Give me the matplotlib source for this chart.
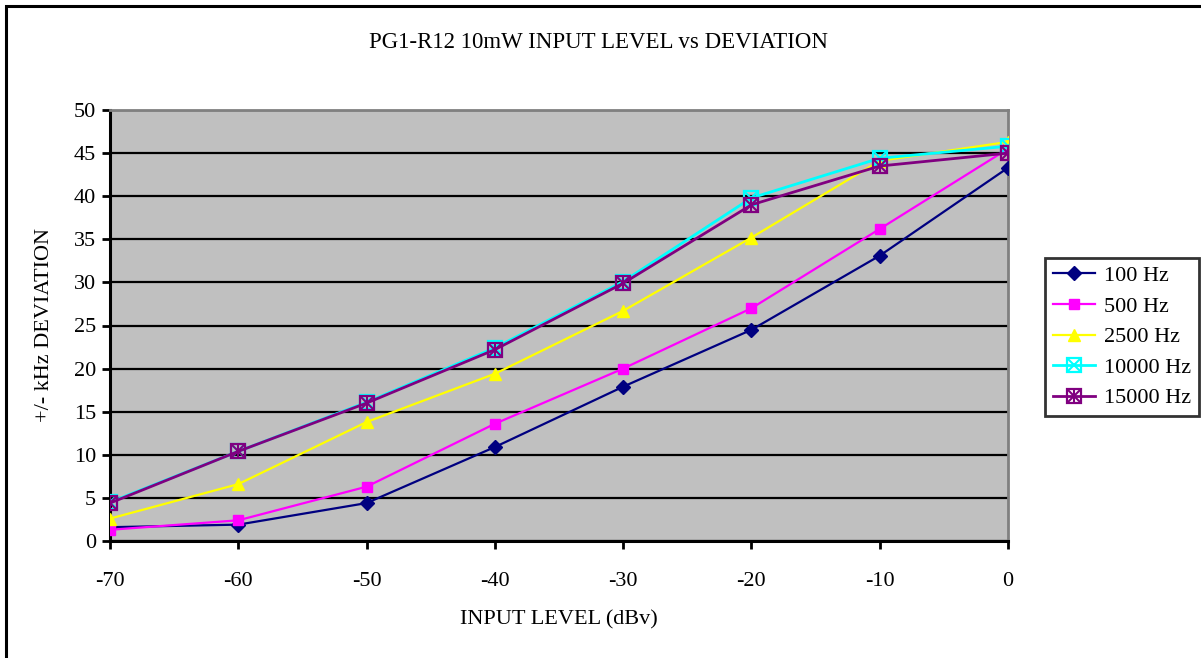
import numpy as np
import matplotlib
matplotlib.use("Agg")
import matplotlib.pyplot as plt
from matplotlib.patches import Rectangle
from matplotlib.legend_handler import HandlerTuple

plt.rcParams['font.family'] = ['Liberation Serif', 'DejaVu Serif']
plt.rcParams['axes.unicode_minus'] = False

# input level (dBv) and deviation (+/- kHz) per test tone
level = [-70, -60, -50, -40, -30, -20, -10, 0]
dev_100 = [1.6, 1.9, 4.4, 10.9, 17.9, 24.5, 33.1, 43.3]
dev_500 = [1.3, 2.4, 6.3, 13.6, 20.0, 27.0, 36.2, 45.5]
dev_2500 = [2.6, 6.6, 13.8, 19.4, 26.7, 35.2, 44.1, 46.3]
dev_10000 = [4.5, 10.4, 16.1, 22.4, 30.1, 39.8, 44.4, 45.8]
dev_15000 = [4.4, 10.4, 16.0, 22.2, 29.9, 39.0, 43.5, 45.0]
labels = ['100 Hz', '500 Hz', '2500 Hz', '10000 Hz', '15000 Hz']

fig = plt.figure(figsize=(12.01, 6.58), dpi=100)
W, H = 1201, 658
ax = fig.add_axes([110 / W, 1 - 541 / H, (1008 - 110) / W, (541 - 110) / H])
ax.set_facecolor('#c0c0c0')

# outer chart frame
fig.patches.append(Rectangle((6 / W, -0.05), 1.2, 1 - 6 / H + 0.05, transform=fig.transFigure,
                             fill=False, edgecolor='black', lw=2.2, clip_on=False))

navy = '#000080'
magenta = '#ff00ff'
yellow = '#ffff00'
cyan = '#00ffff'
purple = '#800080'

h1, = ax.plot(level, dev_100, color=navy, lw=1.6, marker='D', ms=7.5, mec=navy, mfc=navy, zorder=5)
h2, = ax.plot(level, dev_500, color=magenta, lw=1.6, marker='s', ms=7.5, mec=magenta, mfc=magenta, zorder=5)
h3, = ax.plot(level, dev_2500, color=yellow, lw=1.6, marker='^', ms=9, mec=yellow, mfc=yellow, zorder=5)

# square with a cross for 10 kHz
h4a, = ax.plot(level, dev_10000, color=cyan, lw=2.0, marker='s', ms=10.5, mec=cyan, mfc='none', mew=1.6, zorder=6)
h4b, = ax.plot(level, dev_10000, ls='none', marker='x', ms=9, mec=cyan, mew=1.5, zorder=6)

# square with an asterisk for 15 kHz
h5a, = ax.plot(level, dev_15000, color=purple, lw=2.0, marker='s', ms=10.5, mec=purple, mfc='none', mew=1.6, zorder=7)
h5b, = ax.plot(level, dev_15000, ls='none', marker='x', ms=9, mec=purple, mew=1.5, zorder=7)
h5c, = ax.plot(level, dev_15000, ls='none', marker='|', ms=10, mec=purple, mew=1.5, zorder=7)

ax.set_xlim(-70, 0)
ax.set_ylim(0, 50)
ax.set_xticks(level)
ax.set_yticks(np.arange(0, 51, 5))
ax.yaxis.grid(True, color='black', lw=1.6)
ax.set_axisbelow(True)
ax.tick_params(axis='both', direction='out', length=6, width=2, color='black',
               labelsize=16)
ax.tick_params(axis='x', pad=16)
ax.tick_params(axis='y', pad=4)

for side in ['top', 'right']:
    ax.spines[side].set_color('#808080')
    ax.spines[side].set_linewidth(2)
for side in ['left', 'bottom']:
    ax.spines[side].set_color('black')
    ax.spines[side].set_linewidth(2.2)

ax.set_xlabel('INPUT LEVEL (dBv)', fontsize=16, labelpad=14)
ax.set_ylabel('+/- kHz DEVIATION', fontsize=16, labelpad=14)
fig.text(0.4985, 1 - 42 / H, 'PG1-R12 10mW INPUT LEVEL vs DEVIATION', fontsize=16.5,
         ha='center', va='center')

leg = ax.legend([h1, h2, h3, (h4a, h4b), (h5a, h5b, h5c)], labels,
                handler_map={tuple: HandlerTuple(ndivide=1)},
                loc='center left', bbox_to_anchor=(1045 / W, 1 - 337 / H),
                bbox_transform=fig.transFigure, fontsize=16, frameon=True,
                fancybox=False, edgecolor='black', handlelength=1.9,
                handletextpad=0.4, labelspacing=0.45, borderpad=0.35,
                borderaxespad=0)
leg.get_frame().set_linewidth(2)

fig.savefig('out.png', dpi=100)
